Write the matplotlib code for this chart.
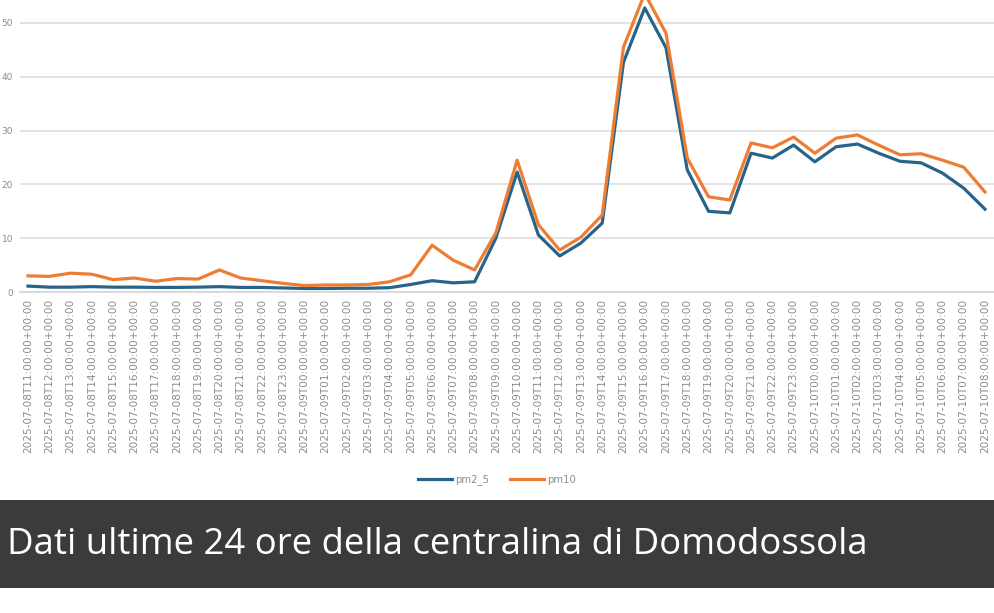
import matplotlib
matplotlib.use("Agg")
import matplotlib.pyplot as plt
from matplotlib.patches import Rectangle

# ---- data ----
hours_day1 = list(range(11, 24))
hours_day2 = list(range(0, 24))
hours_day3 = list(range(0, 9))
labels = ([f"2025-07-08T{h:02d}:00:00+00:00" for h in hours_day1] +
          [f"2025-07-09T{h:02d}:00:00+00:00" for h in hours_day2] +
          [f"2025-07-10T{h:02d}:00:00+00:00" for h in hours_day3])

pm2_5 = [1.1, 0.9, 0.9, 1.0, 0.9, 0.9, 0.85, 0.85, 0.9, 1.0, 0.85, 0.85, 0.75,
         0.65, 0.65, 0.7, 0.7, 0.8, 1.4, 2.1, 1.7, 1.9, 10.0, 22.3, 10.6, 6.7,
         9.1, 12.8, 42.7, 52.8, 45.4, 22.7, 15.0, 14.7, 25.8, 24.9, 27.3, 24.2,
         27.0, 27.5, 25.8, 24.3, 24.0, 22.1, 19.3, 15.4]
pm10 = [3.0, 2.9, 3.5, 3.3, 2.3, 2.6, 2.0, 2.5, 2.4, 4.1, 2.6, 2.1, 1.6, 1.2,
        1.3, 1.3, 1.4, 1.9, 3.2, 8.7, 5.9, 4.1, 11.0, 24.5, 12.5, 7.8, 10.2,
        14.3, 45.5, 55.5, 48.1, 24.9, 17.7, 17.1, 27.7, 26.8, 28.8, 25.8, 28.6,
        29.2, 27.3, 25.5, 25.7, 24.5, 23.2, 18.6]
yticks = [0, 10, 20, 30, 40, 50]
series_names = ["pm2_5", "pm10"]
caption = "Dati ultime 24 ore della centralina di Domodossola"

W, H = 994, 613
fig = plt.figure(figsize=(W / 100, H / 100), dpi=100)
fig.patch.set_facecolor("white")

# axes: left edge at x=20px, bottom at y=292px, top at figure top
ax = fig.add_axes([20 / W, (H - 292) / H, (W - 20) / W, 292 / H])
x = list(range(len(labels)))
blue = "#286489"
orange = "#ee7d34"
l1, = ax.plot(x, pm2_5, color=blue, lw=2.3, label=series_names[0], solid_joinstyle="round")
l2, = ax.plot(x, pm10, color=orange, lw=2.3, label=series_names[1], solid_joinstyle="round")
ax.set_xlim(-8 / 21.27, 45 + 9 / 21.27)
ax.set_ylim(0, 292 / 5.38)
ax.set_yticks(yticks)
ax.set_yticklabels([str(v) for v in yticks])
ax.grid(axis="y", color="#dedede", lw=1.2)
ax.set_axisbelow(True)
for s in ["top", "right", "left"]:
    ax.spines[s].set_visible(False)
ax.spines["bottom"].set_color("#d5d5d5")
ax.spines["bottom"].set_linewidth(1.2)
ax.tick_params(axis="y", length=0, pad=5, labelsize=6.5, labelcolor="#8a8a8a")
ax.set_xticks(x)
ax.set_xticklabels(labels, rotation=90, fontsize=7.6, color="#8c8c8c")
ax.tick_params(axis="x", length=0, pad=5)

fig.legend(handles=[l1, l2], loc="center", bbox_to_anchor=(497 / W, (H - 480) / H),
           ncol=2, frameon=False, fontsize=7.3, handlelength=3.4, columnspacing=2.0,
           handletextpad=0.3, labelcolor="#8c8c8c")

# caption banner
fig.patches.append(Rectangle((0, (H - 588) / H), 1, 88 / H, transform=fig.transFigure,
                             facecolor="#3b3b3b", edgecolor="none", zorder=0))
fig.text(7 / W, (H - 545) / H, caption, color="white", fontsize=26.3,
         family="Open Sans", va="center", ha="left")

fig.savefig("out.png", dpi=100)
